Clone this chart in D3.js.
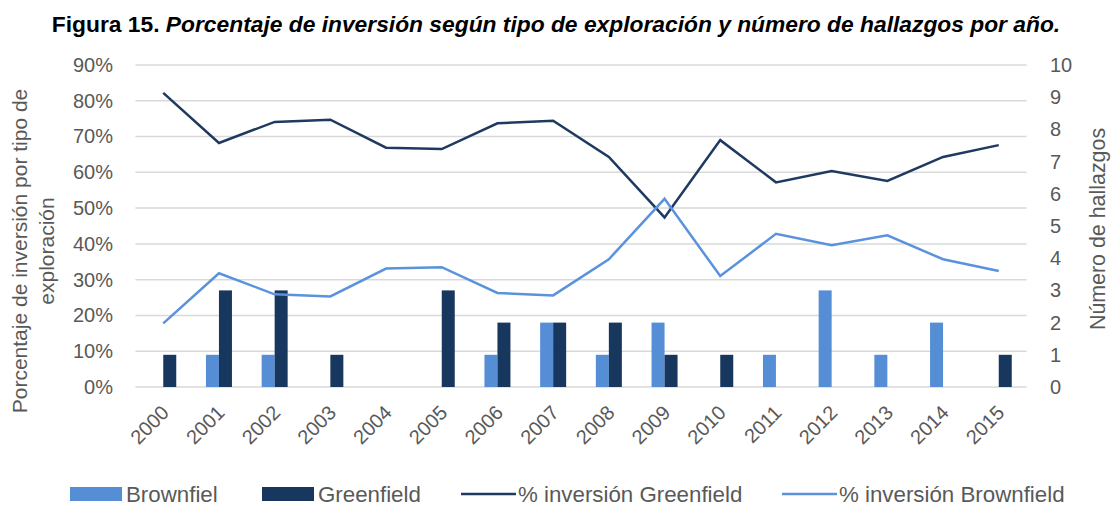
<!DOCTYPE html>
<html>
<head>
<meta charset="utf-8">
<script src="https://cdn.jsdelivr.net/npm/d3@7"></script>
<style>
  body { margin: 0; background: #fff; }
  svg { display: block; font-family: "Liberation Sans", Arial, sans-serif; }
</style>
</head>
<body>
<svg id="chart"></svg>
<script>
let years = ["2000","2001","2002","2003","2004","2005","2006","2007","2008","2009","2010","2011","2012","2013","2014","2015"];
let brownfiel = [0,1,1,0,0,0,1,2,1,2,0,1,3,1,2,0];
let greenfield = [1,3,3,1,0,3,2,2,2,1,1,0,0,0,0,1];
let pctGreenfield = [82.2,68.2,74.1,74.7,66.9,66.5,73.7,74.4,64.3,47.4,69.0,57.2,60.4,57.6,64.3,67.6];
let pctBrownfield = [17.8,31.8,25.9,25.3,33.1,33.5,26.3,25.6,35.7,52.6,31.0,42.8,39.6,42.4,35.7,32.4];
let leftTicks = [0,10,20,30,40,50,60,70,80,90];
let rightTicks = [0,1,2,3,4,5,6,7,8,9,10];

let w = 1111;
let h = 508;
let colBrown = "#558ed5";
let colGreen = "#17375e";
let colLineG = "#1f3a60";
let colLineB = "#5a93dc";
let textCol = "#595959";

let svg = d3.select('#chart').attr('width', w).attr('height', h);

let x = d3.scaleBand().domain(years).range([135.4, 1026.6]);
let xSub = d3.scaleBand().domain(['b','g']).range([x.bandwidth()/2 - 13, x.bandwidth()/2 + 13]);
let yL = d3.scaleLinear().domain([0, 90]).range([387, 65]);
let yR = d3.scaleLinear().domain([0, 10]).range([387, 65]);

// gridlines
svg.append('g')
    .selectAll('line')
    .data(leftTicks)
    .enter()
    .append('line')
    .attr('x1', x.range()[0])
    .attr('x2', x.range()[1])
    .attr('y1', d => yL(d))
    .attr('y2', d => yL(d))
    .attr('stroke', '#d9d9d9')
    .attr('stroke-width', 1.5);

// left axis
let leftAxis = d3.axisLeft(yL).tickValues(leftTicks).tickFormat(d => d + '%').tickSize(0).tickPadding(0);
svg.append('g')
    .attr('transform', 'translate(113,0)')
    .call(leftAxis)
    .call(g => g.select('.domain').remove())
    .selectAll('text')
    .attr('fill', textCol)
    .style('font-size', '20px')
    .style('font-family', '"Liberation Sans", Arial, sans-serif');

// right axis
let rightAxis = d3.axisRight(yR).tickValues(rightTicks).tickSize(0).tickPadding(0);
svg.append('g')
    .attr('transform', 'translate(1050,0)')
    .call(rightAxis)
    .call(g => g.select('.domain').remove())
    .selectAll('text')
    .attr('fill', textCol)
    .style('font-size', '20px')
    .style('font-family', '"Liberation Sans", Arial, sans-serif');

// x labels
svg.append('g')
    .selectAll('text')
    .data(years)
    .enter()
    .append('text')
    .attr('transform', d => 'translate(' + (x(d) + x.bandwidth()/2 + 2) + ',409) rotate(-45)')
    .attr('text-anchor', 'end')
    .attr('dy', '0.35em')
    .attr('fill', textCol)
    .style('font-size', '20px')
    .text(d => d);

// bars
let barGroups = svg.append('g')
    .selectAll('g')
    .data(years)
    .enter()
    .append('g')
    .attr('transform', d => 'translate(' + x(d) + ',0)');

barGroups.append('rect')
    .attr('x', xSub('b'))
    .attr('width', xSub.bandwidth())
    .attr('y', (d, i) => yR(brownfiel[i]))
    .attr('height', (d, i) => yR(0) - yR(brownfiel[i]))
    .attr('fill', colBrown);

barGroups.append('rect')
    .attr('x', xSub('g'))
    .attr('width', xSub.bandwidth())
    .attr('y', (d, i) => yR(greenfield[i]))
    .attr('height', (d, i) => yR(0) - yR(greenfield[i]))
    .attr('fill', colGreen);

// lines
let line = d3.line()
    .x((d, i) => x(years[i]) + x.bandwidth()/2)
    .y(d => yL(d));

svg.append('path')
    .datum(pctGreenfield)
    .attr('d', line)
    .attr('fill', 'none')
    .attr('stroke', colLineG)
    .attr('stroke-width', 2.5);

svg.append('path')
    .datum(pctBrownfield)
    .attr('d', line)
    .attr('fill', 'none')
    .attr('stroke', colLineB)
    .attr('stroke-width', 2.5);

// title
let title = svg.append('text')
    .attr('x', 556)
    .attr('y', 32)
    .attr('text-anchor', 'middle')
    .attr('fill', '#000')
    .style('font-size', '22.8px')
    .style('font-weight', 'bold');
title.append('tspan').text('Figura 15. ');
title.append('tspan').style('font-style', 'italic').text('Porcentaje de inversión según tipo de exploración y número de hallazgos por año.');

// left axis title
let lt = svg.append('text')
    .attr('transform', 'translate(27,251) rotate(-90)')
    .attr('text-anchor', 'middle')
    .attr('fill', textCol)
    .style('font-size', '21px');
lt.append('tspan').attr('x', 0).attr('dy', 0).text('Porcentaje de inversión por tipo de');
lt.append('tspan').attr('x', 0).attr('dy', 27).text('exploración');

// right axis title
svg.append('text')
    .attr('transform', 'translate(1105,229) rotate(-90)')
    .attr('text-anchor', 'middle')
    .attr('fill', textCol)
    .style('font-size', '21.4px')
    .text('Número de hallazgos');

// legend
let legendItems = [
    {label: 'Brownfiel', type: 'rect', color: colBrown, x: 70},
    {label: 'Greenfield', type: 'rect', color: colGreen, x: 262},
    {label: '% inversión Greenfield', type: 'line', color: colLineG, x: 461},
    {label: '% inversión Brownfield', type: 'line', color: colLineB, x: 782}
];
let legend = svg.append('g')
    .selectAll('g')
    .data(legendItems)
    .enter()
    .append('g')
    .attr('transform', d => 'translate(' + d.x + ',494)');

legend.filter(d => d.type === 'rect')
    .append('rect')
    .attr('x', 0).attr('y', -7)
    .attr('width', 52).attr('height', 14)
    .attr('fill', d => d.color);

legend.filter(d => d.type === 'line')
    .append('line')
    .attr('x1', 0).attr('x2', 55)
    .attr('y1', 0).attr('y2', 0)
    .attr('stroke', d => d.color)
    .attr('stroke-width', 2.5);

legend.append('text')
    .attr('x', d => d.type === 'rect' ? 56 : 57)
    .attr('dy', '0.35em')
    .attr('fill', textCol)
    .style('font-size', '22.3px')
    .text(d => d.label);
</script>
</body>
</html>
